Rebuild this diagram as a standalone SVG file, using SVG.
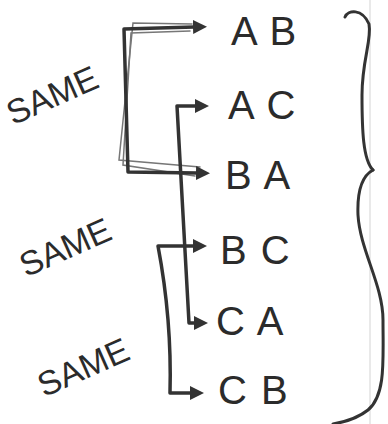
<svg xmlns="http://www.w3.org/2000/svg" width="388" height="424" viewBox="0 0 388 424">
<style>
.lbl{font-family:"Liberation Sans",Arial,sans-serif;font-size:40px;fill:#2b2b2b;word-spacing:3px}
.same{font-family:"Liberation Sans",Arial,sans-serif;font-size:34px;fill:#2b2b2b}
.con{fill:none;stroke:#333;stroke-width:3.5;stroke-linejoin:round;stroke-linecap:round}
.sk{fill:none;stroke:#777;stroke-width:1.5;stroke-linecap:round}
.brace{fill:none;stroke:#333;stroke-width:3;stroke-linecap:round}
</style>
<defs>
<marker id="ah" markerUnits="userSpaceOnUse" markerWidth="16" markerHeight="16" refX="1" refY="7" orient="auto-start-reverse">
<path d="M0,0 L14,7 L0,14 Z" fill="#333"/>
</marker>
</defs>
<rect width="388" height="424" fill="#fff"/>
<line x1="370" y1="0" x2="370" y2="424" stroke="#e2e2e2" stroke-width="1.5"/>
<g id="connectors">
<path class="sk" d="M192,24 L133,23 L119,160 L200,167"/>
<path class="sk" d="M190,31 L131,33 L123,165 L195,176"/>
<path class="con" d="M194,27 L124,29 L128,172 L197,173" marker-start="url(#ah)" marker-end="url(#ah)"/>
<path class="con" d="M195,323 L189,323 L177,106 L196,106" marker-start="url(#ah)" marker-end="url(#ah)"/>
<path class="con" d="M194,246 L158,246 Q172,320 170,393 L191,393" marker-start="url(#ah)" marker-end="url(#ah)"/>
</g>
<g id="node-ab"><text class="lbl" x="231" y="45">A B</text></g>
<g id="node-ac"><text class="lbl" x="228" y="119">A C</text></g>
<g id="node-ba"><text class="lbl" x="225" y="189">B A</text></g>
<g id="node-bc"><text class="lbl" x="220" y="264">B C</text></g>
<g id="node-ca"><text class="lbl" x="216" y="335">C A</text></g>
<g id="node-cb"><text class="lbl" x="218" y="404">C B</text></g>
<g id="same-1"><text class="same" transform="translate(57,106) rotate(-24)" text-anchor="middle">SAME</text></g>
<g id="same-2"><text class="same" transform="translate(70,258) rotate(-24)" text-anchor="middle">SAME</text></g>
<g id="same-3"><text class="same" transform="translate(88,378) rotate(-24)" text-anchor="middle">SAME</text></g>
<g id="brace">
<path class="brace" d="M345,17 C348,10 362,8 369,24 C372,40 362,60 362,95 C362,130 363,160 373,170"/>
<path class="brace" d="M373,170 C362,176 357,190 358,215 C360,250 383,285 383,320 C383,360 386,395 368,410 C358,418 345,422 333,424"/>
</g>
</svg>
